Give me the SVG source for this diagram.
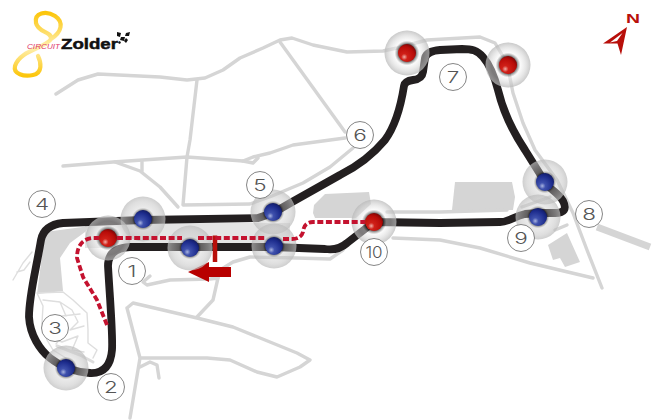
<svg xmlns="http://www.w3.org/2000/svg" width="660" height="420" viewBox="0 0 660 420">
<style>
.r{fill:none;stroke:#d5d5d5;stroke-width:3.4;stroke-linecap:round;stroke-linejoin:round}
.m{fill:none;stroke:#dedede;stroke-width:1.4;stroke-linecap:round;stroke-linejoin:round}
.f{fill:#d5d5d5}
.t{fill:none;stroke:#231f20;stroke-width:7.8;stroke-linecap:round;stroke-linejoin:round}
.d{fill:none;stroke:#c4122f;stroke-width:3.8;stroke-dasharray:6 2.6;stroke-linecap:butt;stroke-linejoin:round}
.l{fill:#fff;stroke:#666;stroke-width:.8}
.n{font-family:Inter,"Liberation Sans",Arial,sans-serif;font-weight:300;font-size:15.5px;fill:#555;text-anchor:middle}
.h{stroke:none}
</style>
<defs>
<radialGradient id="hb"><stop offset="0" stop-color="#000" stop-opacity=".8"/><stop offset="0.36" stop-color="#000" stop-opacity=".6"/><stop offset="0.5" stop-color="#c8c8c8" stop-opacity=".38"/><stop offset="0.8" stop-color="#c4c4c4" stop-opacity=".55"/><stop offset="1" stop-color="#bcbcbc" stop-opacity=".72"/></radialGradient>
<radialGradient id="hr"><stop offset="0" stop-color="#000" stop-opacity=".8"/><stop offset="0.38" stop-color="#000" stop-opacity=".6"/><stop offset="0.55" stop-color="#f4f4f4" stop-opacity=".45"/><stop offset="0.75" stop-color="#d4d4d4" stop-opacity=".5"/><stop offset="1" stop-color="#b8b8b8" stop-opacity=".75"/></radialGradient>
<radialGradient id="bb" cx=".35" cy=".72" r=".8"><stop offset="0" stop-color="#a9b4e0"/><stop offset=".22" stop-color="#3f51ad"/><stop offset=".7" stop-color="#1c2b8c"/><stop offset="1" stop-color="#10185c"/></radialGradient>
<radialGradient id="br" cx=".35" cy=".72" r=".8"><stop offset="0" stop-color="#f0b0a8"/><stop offset=".22" stop-color="#d02018"/><stop offset=".7" stop-color="#b80c08"/><stop offset="1" stop-color="#700404"/></radialGradient>
<linearGradient id="ya" x1="0" y1="0" x2="0" y2="1"><stop offset="0" stop-color="#fcc60c"/><stop offset=".55" stop-color="#fff0b0"/><stop offset="1" stop-color="#fcc60c"/></linearGradient>
<g id="hbl"><circle r="22.5" class="h" fill="url(#hb)"/><circle r="9" fill="url(#bb)"/></g>
<g id="hrd"><circle r="22.5" class="h" fill="url(#hr)"/><circle r="9" fill="url(#br)"/></g>
</defs>

<g id="logo">
<path d="M51 39C62 32 64 22 55 16C46 10 34 13 36 23C38 33 52 31 51 39C46 48 20 50 15 66C13 74 24 77 33 75C43 73 41 62 38 56" fill="none" stroke="url(#ya)" stroke-width="4.2" stroke-linecap="round"/>
<text x="27" y="49" font-family="'Liberation Sans',Arial,sans-serif" font-style="italic" font-size="8" fill="#e0386a" textLength="33" lengthAdjust="spacingAndGlyphs">CIRCUIT</text>
<text x="61" y="49" font-family="'Liberation Sans',Arial,sans-serif" font-weight="700" font-size="15.5" fill="#111" stroke="#111" stroke-width=".5" textLength="57" lengthAdjust="spacingAndGlyphs">Zolder</text>
<path d="M117 32l4 1-1 4-3-1zM126 33l4-1-1 4-4 0zM121 37l4 0-1 4-4-1zM126 38l2 2-2 3-2-2zM119 41l2 1-1 2-2-1z" fill="#111"/>
</g>

<g id="compass">
<path d="M627 27L603 43.500 617.500 43.500 621 55Z" fill="#b80f0a"/>
<path d="M622.500 33L610 42.500 617 41Z" fill="#fff"/>
<text x="626" y="23" font-family="'Liberation Sans',Arial,sans-serif" font-weight="700" font-size="13.500" fill="#b80f0a" textLength="14" lengthAdjust="spacingAndGlyphs">N</text>
</g>

<g id="background">
<path fill="#e4e4e4" d="M85 223H290V248H85Z"/>
<path class="f" d="M45 232L90 226 85 232 70 243 60 258 63 291 37 294Z"/>
<path class="f" d="M313 213L314 205L325 194L369 192L371 204L356 218L315 218Z"/>
<path class="f" d="M455 182H512L515 197L513 210L452 210Z"/>
<path class="f" d="M548 245L567 233L580 262L565 267L560 258L553 260Z"/>
<path class="r" style="stroke-width:7;stroke-linecap:butt" d="M597 227L650 247"/>
<path class="r" d="M56 94L78 80 98 74 160 77 187 80 205 78 223 70 240 58 263 48 280 40 292 38 313 45 347 52 383 51 397 48 427 40 480 37 495 43 507 63 513 93 523 123 535 150 557 180 573 213 587 250 602 288"/>
<path class="r" d="M197 80L190 140 187 157 183 205 250 204 272 196 303 183 330 167 353 148"/>
<path class="r" d="M280 42L345 132"/>
<path class="r" d="M63 166L113 162 187 157 243 161 253 157 270 153 293 145 345 138"/>
<path class="r" d="M243 161L253 163 258 158"/>
<path class="r" d="M115 162L140 171 160 187 178 207"/>
<path class="r" d="M142 162V171"/>
<path class="r" d="M387 212H440L507 210"/>
<path class="r" d="M393 238L440 240 480 248 530 263 593 278"/>
<path class="r" d="M522 207L550 197M555 230L567 225"/>
<path class="r" d="M150 276L143 282 147 285 170 280 210 279 218 278 213 300 197 317"/>
<path class="r" d="M218 278L220 270 233 262 250 257 297 258 330 259 343 250"/>
<path class="r" d="M127 308L133 303 197 318 233 327 297 353 310 360 300 367 277 377 257 372 230 360 207 358 140 358 127 308M140 358L130 418"/>
<path class="r" d="M140 367L150 362 157 365 159 378"/>
<path class="r" style="stroke-width:3;stroke:#ddd" d="M57 346L80 355 93 362"/>
<path class="m" d="M37 293L63 292 73 300 87 313 88 330 88 343 97 350 93 358M37 293L43 306 42 323 47 340 53 350 66 358"/>
<path class="m" d="M43 300L60 302 72 310 78 322 70 330 84 326M48 318L62 316 80 314M46 336L62 342 78 336 72 350 84 352M60 302L66 316M56 344L68 328"/>
<path class="m" d="M13 280L23 263 32 252M17 272L24 270 30 262"/>
</g>

<g id="connectors">
<path class="t" d="M374 222L440 223 500 222C510 222 514 216 525 214L538 213 555 213Q569 213 563 201C558 192 550 190 545 182L525 150C515 135 504 115 498 90C494 75 490 65 483 57C477 50 472 49 462 49L440 50Q427 51 425 58L423 72Q422 79 413 80 405 81 404 86C401 105 396 125 385 140 375 152 360 165 340 175L292 202 273 213 258 218 143 220 63 223Q44 225 41 240C36 270 29 295 29 317 30 335 40 350 50 358 60 366 75 372 90 373Q110 374 112 350C113 335 110 300 108 266Q108 248 130 247L273 247 325 249Q338 251 347 243L374 222"/>
</g>

<g id="marker-start">
<path d="M215 235.500V262" fill="none" stroke="#b80f0a" stroke-width="4.500"/>
<path d="M188 272L209 262V267H231V277H209V282Z" fill="#b80000"/>
</g>

<g id="node-a"><use href="#hbl" x="143" y="219"/></g>
<g id="node-b"><use href="#hrd" x="108" y="238"/></g>
<g id="node-c"><use href="#hbl" x="190" y="248"/></g>
<g id="node-d"><use href="#hbl" x="66" y="368"/></g>
<g id="node-e"><use href="#hbl" x="273" y="212"/></g>
<g id="node-f"><use href="#hbl" x="274" y="246"/></g>
<g id="node-g"><use href="#hrd" x="374" y="222"/></g>
<g id="node-h"><use href="#hrd" x="407" y="53"/></g>
<g id="node-i"><use href="#hrd" x="508" y="65"/></g>
<g id="node-j"><use href="#hbl" x="545" y="182"/></g>
<g id="node-k"><use href="#hbl" x="538" y="217"/></g>

<g id="connectors-dashed">
<path class="d" d="M107 325L97 300 83 277 77 258Q77 240 92 238L99 238M117 238L182 238M198 238L265 238M283 239L292 239Q301 239 303 232 304 222 313 222L365 222"/>
</g>

<g id="label-1"><circle class="l" cx="132" cy="271" r="13.500"/><text class="n" transform="translate(132 277) scale(1.45 1)">1</text></g>
<g id="label-2"><circle class="l" cx="111" cy="387" r="13.500"/><text class="n" transform="translate(111 393) scale(1.45 1)">2</text></g>
<g id="label-3"><circle class="l" cx="55" cy="328" r="13.500"/><text class="n" transform="translate(55 334) scale(1.45 1)">3</text></g>
<g id="label-4"><circle class="l" cx="42" cy="204" r="13.500"/><text class="n" transform="translate(42 210) scale(1.45 1)">4</text></g>
<g id="label-5"><circle class="l" cx="260" cy="185" r="13.500"/><text class="n" transform="translate(260 191) scale(1.45 1)">5</text></g>
<g id="label-6"><circle class="l" cx="360" cy="135" r="13.500"/><text class="n" transform="translate(360 141) scale(1.45 1)">6</text></g>
<g id="label-7"><circle class="l" cx="453" cy="77" r="13.500"/><text class="n" transform="translate(453 83) scale(1.45 1)">7</text></g>
<g id="label-8"><circle class="l" cx="589" cy="214" r="13.500"/><text class="n" transform="translate(589 220) scale(1.45 1)">8</text></g>
<g id="label-9"><circle class="l" cx="521" cy="238" r="13.500"/><text class="n" transform="translate(521 244) scale(1.45 1)">9</text></g>
<g id="label-10"><circle class="l" cx="374" cy="252" r="13.500"/><text class="n" transform="translate(374 258) scale(1.1 1)">10</text></g>
</svg>
